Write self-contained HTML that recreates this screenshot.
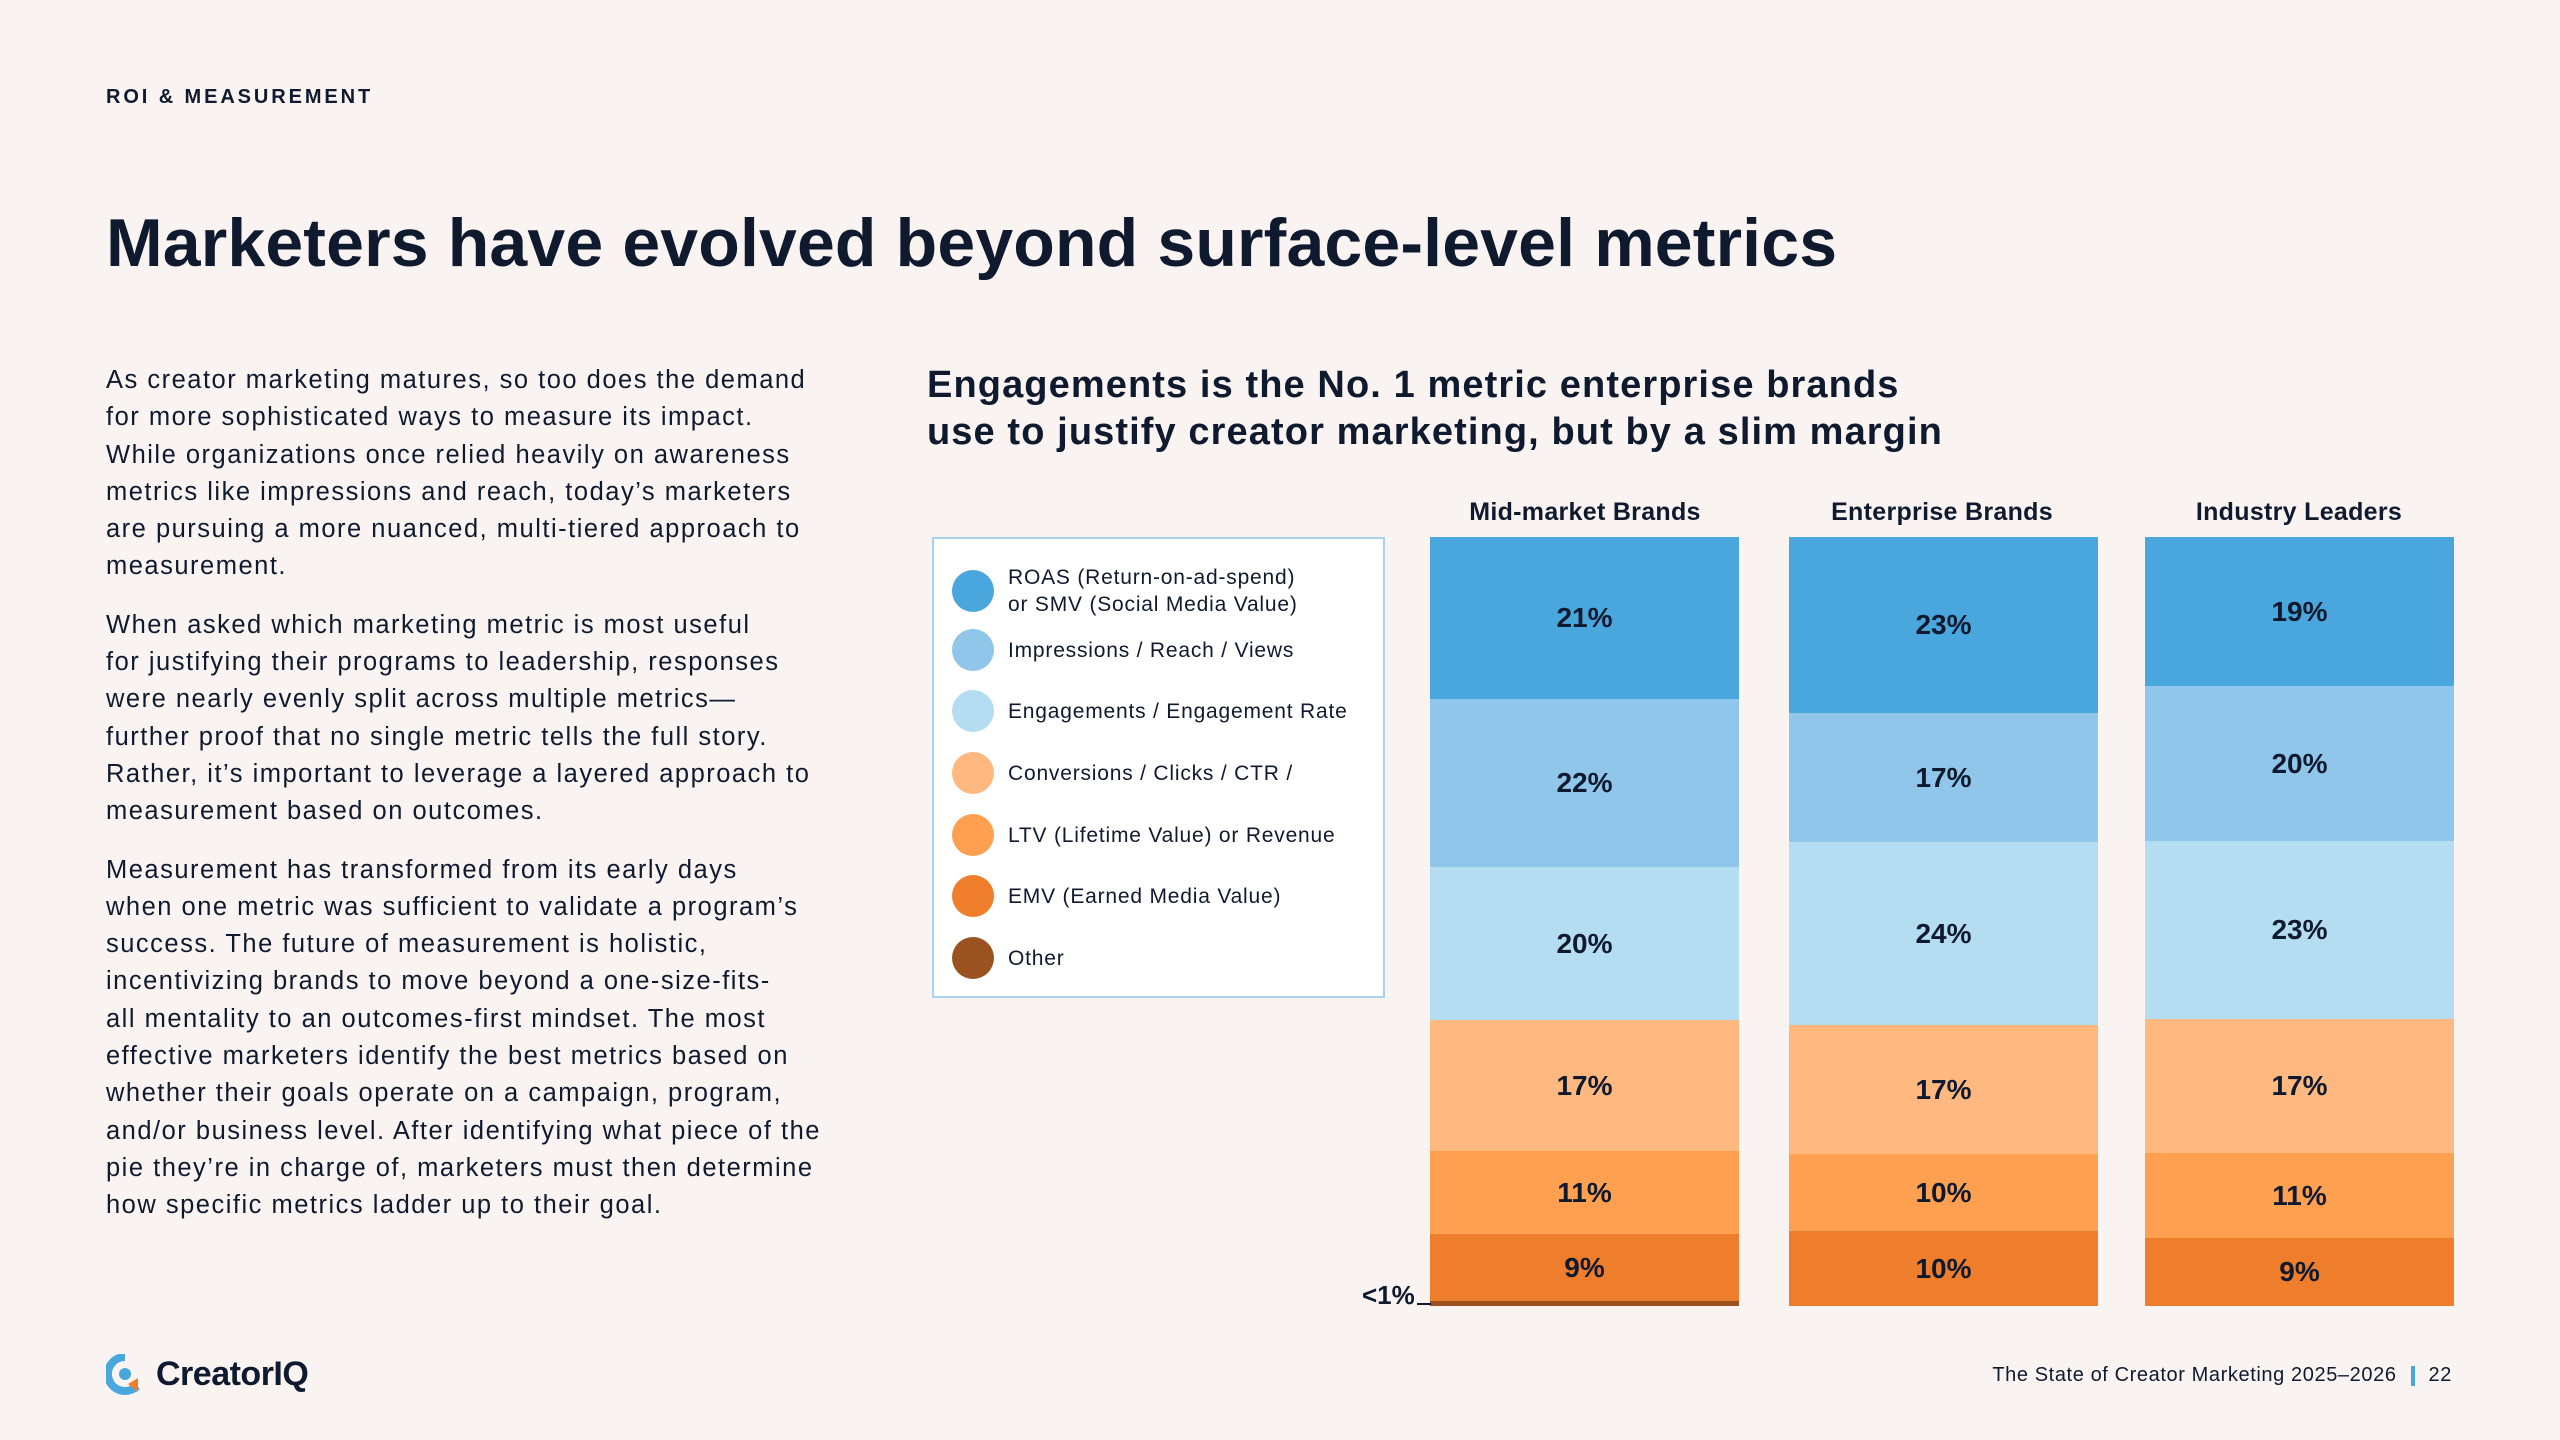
<!DOCTYPE html>
<html><head><meta charset="utf-8"><style>
*{margin:0;padding:0;box-sizing:border-box}
body{width:2560px;height:1440px;background:#f9f4f2;font-family:"Liberation Sans",sans-serif;color:#0f1a2e;position:relative;overflow:hidden}
.a{position:absolute}
.kick{left:106px;top:86px;font-size:20px;font-weight:bold;letter-spacing:2.9px}
.title{left:106px;top:204px;font-size:68px;font-weight:bold;letter-spacing:0.15px}
.body{left:106px;top:362px;width:800px;font-size:25.5px;line-height:37.3px;letter-spacing:1.5px}
.body p{margin-bottom:21px}
.ct{left:927px;top:362px;font-size:38px;font-weight:bold;line-height:47px;letter-spacing:1.1px}
.hd{top:498px;width:310px;text-align:center;font-size:25px;font-weight:bold;letter-spacing:0.3px}
.bar{top:537px;width:309px;height:769px}
.seg{position:absolute;left:0;width:100%;display:flex;align-items:center;justify-content:center;font-size:28px;font-weight:bold}
.leg{left:932px;top:537px;width:453px;height:461px;background:#fff;border:2px solid #a9d3ec}
.li{position:absolute;left:18px;display:flex;align-items:center;font-size:21px;line-height:27px;letter-spacing:0.8px}
.li i{display:block;width:42px;height:42px;border-radius:50%;margin-right:14px;flex:none}
</style></head><body>
<div class="a kick">ROI &amp; MEASUREMENT</div>
<div class="a title">Marketers have evolved beyond surface-level metrics</div>
<div class="a body">
<p>As creator marketing matures, so too does the demand<br>for more sophisticated ways to measure its impact.<br>While organizations once relied heavily on awareness<br>metrics like impressions and reach, today’s marketers<br>are pursuing a more nuanced, multi-tiered approach to<br>measurement.</p>
<p>When asked which marketing metric is most useful<br>for justifying their programs to leadership, responses<br>were nearly evenly split across multiple metrics—<br>further proof that no single metric tells the full story.<br>Rather, it’s important to leverage a layered approach to<br>measurement based on outcomes.</p>
<p>Measurement has transformed from its early days<br>when one metric was sufficient to validate a program’s<br>success. The future of measurement is holistic,<br>incentivizing brands to move beyond a one-size-fits-<br>all mentality to an outcomes-first mindset. The most<br>effective marketers identify the best metrics based on<br>whether their goals operate on a campaign, program,<br>and/or business level. After identifying what piece of the<br>pie they’re in charge of, marketers must then determine<br>how specific metrics ladder up to their goal.</p>
</div>
<div class="a ct">Engagements is the No. 1 metric enterprise brands<br>use to justify creator marketing, but by a slim margin</div>

<div class="a leg">
<div class="li" style="top:25px"><i style="background:#4aa7de"></i><span>ROAS (Return-on-ad-spend)<br>or SMV (Social Media Value)</span></div>
<div class="li" style="top:90px"><i style="background:#8fc6ea"></i><span>Impressions / Reach / Views</span></div>
<div class="li" style="top:151px"><i style="background:#b5ddf2"></i><span>Engagements / Engagement Rate</span></div>
<div class="li" style="top:213px"><i style="background:#ffb880"></i><span>Conversions / Clicks / CTR /</span></div>
<div class="li" style="top:275px"><i style="background:#ffa050"></i><span>LTV (Lifetime Value) or Revenue</span></div>
<div class="li" style="top:336px"><i style="background:#ee7d2c"></i><span>EMV (Earned Media Value)</span></div>
<div class="li" style="top:398px"><i style="background:#9a5220"></i><span>Other</span></div>
</div>

<div class="a hd" style="left:1430px">Mid-market Brands</div>
<div class="a hd" style="left:1787px">Enterprise Brands</div>
<div class="a hd" style="left:2144px">Industry Leaders</div>

<div class="a bar" style="left:1430px">
<div class="seg" style="top:0;height:162px;background:#4aa7de">21%</div>
<div class="seg" style="top:162px;height:168px;background:#8fc6ea">22%</div>
<div class="seg" style="top:330px;height:153px;background:#b5ddf2">20%</div>
<div class="seg" style="top:483px;height:131px;background:#ffb880">17%</div>
<div class="seg" style="top:614px;height:83px;background:#ffa050">11%</div>
<div class="seg" style="top:697px;height:67px;background:#ee7d2c">9%</div>
<div class="seg" style="top:764px;height:5px;background:#9a5220"></div>
</div>
<div class="a bar" style="left:1789px">
<div class="seg" style="top:0;height:176px;background:#4aa7de">23%</div>
<div class="seg" style="top:176px;height:129px;background:#8fc6ea">17%</div>
<div class="seg" style="top:305px;height:183px;background:#b5ddf2">24%</div>
<div class="seg" style="top:488px;height:129px;background:#ffb880">17%</div>
<div class="seg" style="top:617px;height:77px;background:#ffa050">10%</div>
<div class="seg" style="top:694px;height:75px;background:#ee7d2c">10%</div>
</div>
<div class="a bar" style="left:2145px">
<div class="seg" style="top:0;height:149px;background:#4aa7de">19%</div>
<div class="seg" style="top:149px;height:155px;background:#8fc6ea">20%</div>
<div class="seg" style="top:304px;height:178px;background:#b5ddf2">23%</div>
<div class="seg" style="top:482px;height:134px;background:#ffb880">17%</div>
<div class="seg" style="top:616px;height:85px;background:#ffa050">11%</div>
<div class="seg" style="top:701px;height:68px;background:#ee7d2c">9%</div>
</div>
<div class="a" style="left:1362px;top:1280px;font-size:26px;font-weight:bold">&lt;1%</div>
<div class="a" style="left:1417px;top:1303px;width:14px;height:2px;background:#0f1a2e"></div>

<div class="a" style="left:106px;top:1354px;width:38px;height:40px">
<svg width="38" height="42" viewBox="0 0 38 42"><path d="M19 3a17 17 0 1 0 12 29" stroke="#4aa7de" stroke-width="8" fill="none"/><circle cx="19" cy="20" r="6" fill="#4aa7de"/><path d="M22 30l10 8v-14z" fill="#ee7d2c"/></svg></div>
<div class="a" style="left:156px;top:1355px;font-size:34px;font-weight:bold;letter-spacing:-0.5px">CreatorIQ</div>
<div class="a" style="right:108px;top:1364px;font-size:20px;display:flex;align-items:center;letter-spacing:0.6px">The State of Creator Marketing 2025–2026<span style="display:inline-block;width:4px;height:20px;background:#4aa7de;margin:0 14px"></span>22</div>
</body></html>
